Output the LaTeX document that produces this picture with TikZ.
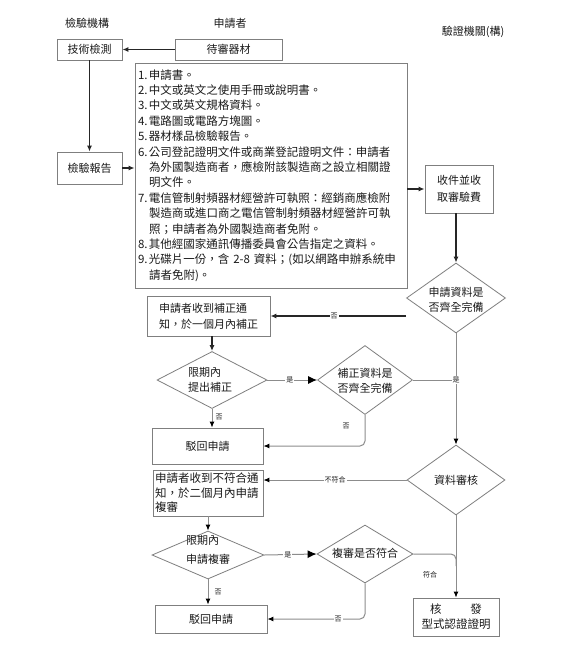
\documentclass[tikz,border=0pt]{standalone}
\usepackage{fontspec}
\newfontfamily\cjk{Noto Sans CJK TC}
\usetikzlibrary{shapes.geometric,arrows.meta,calc}
\definecolor{bordergray}{HTML}{7F7F7F}
\definecolor{linegray}{HTML}{8C8C8C}
\definecolor{txt}{HTML}{1A1A1A}
\begin{document}
\begin{tikzpicture}[x=1pt,y=-1pt,
  box/.style={draw=bordergray, line width=0.8pt, inner sep=2pt, font=\cjk\fontsize{11}{14}\selectfont, text=txt, align=center},
  dia/.style={draw=bordergray, line width=0.8pt, diamond, inner sep=0pt},
  dtext/.style={font=\cjk\fontsize{11}{15.5}\selectfont, text=txt, inner sep=0pt},
  head/.style={font=\cjk\fontsize{11}{14}\selectfont, text=txt, inner sep=0pt},
  lab/.style={font=\cjk\fontsize{7}{8}\selectfont, text=txt, fill=white, inner sep=1pt},
  darrow/.style={draw=black!85, line width=1.4pt, -{Latex[length=6pt,width=5pt]}},
  garrow/.style={draw=linegray, line width=1pt, -{Latex[length=6pt,width=5pt,color=black]}},
  bigtip/.style={-{Latex[length=9pt,width=8pt,color=black]}},
  gline/.style={draw=linegray, line width=1pt}]
\useasboundingbox[fill=white] (0,0) rectangle (560,645);

% headers
\node[head] (h1) at (87,23) {檢驗機構};
\node[head] (h2) at (230,23) {申請者};
\node[head] (h3) at (473,32) {驗證機關(構)};

% boxes
\node[box, minimum width=65pt, minimum height=21pt] (b1) at (89.5,49.5) {技術檢測};
\node[box, minimum width=107pt, minimum height=21pt] (b0) at (228.5,49.5) {待審器材};
\node[box, minimum width=65pt, minimum height=32pt] (b7) at (89.5,168) {檢驗報告};
\node[box, align=left, text width=266pt, minimum height=225pt, inner sep=3pt,
      font=\cjk\fontsize{11.5}{15.4}\selectfont] (list) at (271,175.5) {%
\makebox[11pt][l]{1.}申請書。\\
\makebox[11pt][l]{2.}中文或英文之使用手冊或說明書。\\
\makebox[11pt][l]{3.}中文或英文規格資料。\\
\makebox[11pt][l]{4.}電路圖或電路方塊圖。\\
\makebox[11pt][l]{5.}器材樣品檢驗報告。\\
\makebox[11pt][l]{6.}公司登記證明文件或商業登記證明文件：申請者\\
\hspace*{11pt}為外國製造商者，應檢附該製造商之設立相關證\\
\hspace*{11pt}明文件。\\
\makebox[11pt][l]{7.}電信管制射頻器材經營許可執照：經銷商應檢附\\
\hspace*{11pt}製造商或進口商之電信管制射頻器材經營許可執\\
\hspace*{11pt}照；申請者為外國製造商者免附。\\
\makebox[11pt][l]{8.}其他經國家通訊傳播委員會公告指定之資料。\\
\makebox[11pt][l]{9.}光碟片一份，含 2-8 資料；(如以網路申辦系統申\\
\hspace*{11pt}請者免附)。};
\node[box, minimum width=68pt, minimum height=48pt, font=\cjk\fontsize{11}{17}\selectfont] (b8) at (459,189) {收件並收\\取審驗費};

\node[dia, minimum width=99pt, minimum height=70pt] (d1) at (456,298) {};
\node[dtext, align=center] (d1t) at (456,300) {申請資料是\\否齊全完備};

\node[box, align=left, minimum width=123pt, minimum height=40pt, font=\cjk\fontsize{11}{16}\selectfont] (b2) at (208.5,316) {申請者收到補正通\\知，於一個月內補正};

\node[dia, minimum width=110pt, minimum height=57pt] (d2) at (212,380) {};
\node[dtext, align=left] (d2t) at (210,380) {限期內\\提出補正};

\node[dia, minimum width=95pt, minimum height=69pt] (d3) at (365,380) {};
\node[dtext, align=center] (d3t) at (365,381) {補正資料是\\否齊全完備};

\node[box, minimum width=111pt, minimum height=36pt] (b3) at (207.5,446) {駁回申請};

\node[dia, minimum width=98pt, minimum height=70pt] (d4) at (456,480) {};
\node[dtext] (d4t) at (456,480) {資料審核};

\node[box, align=left, text width=106pt, minimum height=46pt, font=\cjk\fontsize{11.5}{14.5}\selectfont] (b4) at (208,493) {申請者收到不符合通\\知，於二個月內申請\\複審};

\node[dia, minimum width=112pt, minimum height=48pt] (d5) at (208,555) {};
\node[dtext, align=left, font=\cjk\fontsize{11}{19.5}\selectfont] (d5t) at (208,550) {限期內\\申請複審};

\node[dia, minimum width=96pt, minimum height=58pt] (d6) at (365,554) {};
\node[dtext] (d6t) at (365,553) {複審是否符合};

\node[box, minimum width=112pt, minimum height=28pt] (b5) at (211,619) {駁回申請};
\node[box, minimum width=86pt, minimum height=38pt, font=\cjk\fontsize{11.5}{15}\selectfont] (b6) at (456,617) {核\hspace{29pt}發\\型式認證證明};

% connectors (dark)
\draw[darrow] (b0.west) -- (b1.east);
\draw[darrow, line width=1.8pt] (b1.south) -- (b7.north);
\draw[darrow] (b7.east) -- (b7.east -| list.west);
\draw[darrow] (list.east |- b8.west) -- (b8.west);
\draw[darrow] (d1.north |- b8.south) -- (d1.north);
\draw[darrow] (d1.west |- b2.east) -- (b2.east) node[lab, pos=0.53] (l1) {否};
\draw[darrow] (d2.north |- b2.south) -- (d2.north);

% connectors (gray)
\coordinate (j1) at (d1.south |- d3.east);
\coordinate (j2) at (d4.south |- d6.east);
\draw[garrow, bigtip] (d2.east) -- (d3.west) node[lab, pos=0.45] (l2) {是};
\draw[gline] (d3.east) -- (j1);
\draw[garrow] (d1.south) -- (d4.north);
\node[lab] (l3) at (j1) {是};
\draw[garrow] (d2.south) -- (d2.south |- b3.north);
\node[lab, fill=none] (l4) at (219,417) {否};
\draw[garrow, rounded corners=5pt] (d3.south) |- (b3.east);
\node[lab, fill=none] (l5) at (346,426) {否};
\draw[garrow] (d4.west) -- (d4.west -| b4.east) node[lab, pos=0.5] (l6) {不符合};
\draw[garrow] (b4.south) -- (d5.north);
\draw[garrow, bigtip] (d5.east) -- (d6.west) node[lab, pos=0.45] (l7) {是};
\draw[gline, rounded corners=5pt] (d6.east) -- (j2) -- ($(j2)+(0,12)$);
\draw[garrow] (d4.south) -- (b6.north);
\node[lab, fill=none] (l8) at (430,575) {符合};
\draw[garrow] (d5.south) -- (d5.south |- b5.north);
\node[lab, fill=none] (l9) at (218,592) {否};
\draw[garrow, rounded corners=5pt] (d6.south) |- (b5.east);
\node[lab] (l10) at (338,619) {否};
\end{tikzpicture}
\end{document}
